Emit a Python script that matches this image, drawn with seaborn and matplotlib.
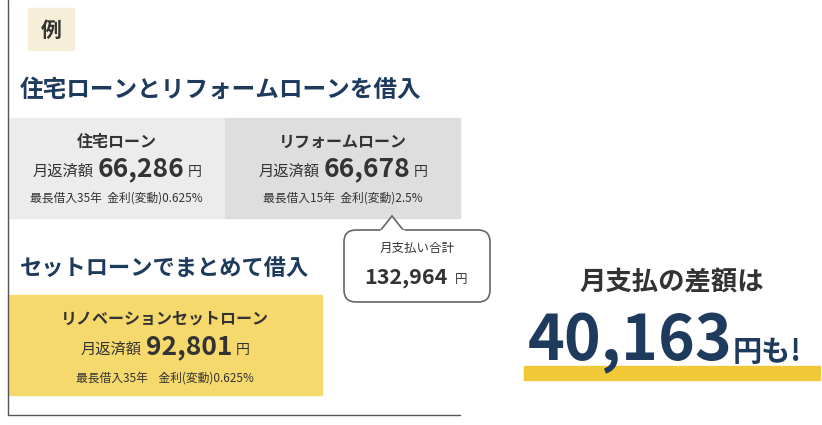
import matplotlib.pyplot as plt
import seaborn as sns
from matplotlib.patches import Rectangle, FancyBboxPatch, Polygon

sns.set_theme(style="white", rc={"font.family": "Noto Sans CJK JP"})

# loan data
loan_names = ["住宅ローン", "リフォームローン", "リノベーションセットローン"]
monthly_pay = [66286, 66678, 92801]
loan_years = [35, 15, 35]
loan_rates = ["0.625%", "2.5%", "0.625%"]

navy = "#1e3a5c"
txt = "#333333"

fig = plt.figure(figsize=(8.22, 4.25), dpi=100)
ax = fig.add_axes([0, 0, 1, 1])
ax.set_xlim(0, 822)
ax.set_ylim(425, 0)
ax.axis("off")

# frame lines
ax.plot([8, 8], [0, 415], color="#555555", lw=1)
ax.plot([8, 460], [415, 415], color="#555555", lw=1)

# 例 label
ax.add_patch(Rectangle((28, 8), 46, 42, color="#f6eed8"))
ax.text(51, 30, "例", ha="center", va="center", fontsize=15, fontweight="bold", color=txt)

ax.text(20, 90, "住宅ローンとリフォームローンを借入", ha="left", va="center",
        fontsize=17, fontweight="bold", color=navy)


def pay_line(cx, y, value):
    ax.text(cx - 84, y + 2, "月返済額", ha="left", va="center", fontsize=11, color=txt)
    ax.text(cx + 24, y, f"{value:,}", ha="center", va="center", fontsize=19, fontweight="bold", color=txt)
    ax.text(cx + 71, y + 3, "円", ha="left", va="center", fontsize=10, color=txt)


boxes = [(8, 118, 217, 100, "#ececec"), (225, 118, 235, 100, "#dedede")]
for i, (x, y, w, h, c) in enumerate(boxes):
    ax.add_patch(Rectangle((x, y), w, h, color=c))
    cx = x + w / 2
    ax.text(cx, 142, loan_names[i], ha="center", va="center", fontsize=11.5, fontweight="bold", color=txt)
    pay_line(cx, 169, monthly_pay[i])
    ax.text(cx, 198, f"最長借入{loan_years[i]}年  金利(変動){loan_rates[i]}", ha="center", va="center",
            fontsize=8.5, color=txt)

# speech bubble
ax.add_patch(FancyBboxPatch((344, 230), 146, 72, boxstyle="round,pad=0,rounding_size=12",
                            facecolor="white", edgecolor="#666666", lw=1.2, zorder=3))
ax.add_patch(Polygon([[380, 231], [392, 216], [404, 231]], closed=True, facecolor="white",
                     edgecolor="#666666", lw=1.2, zorder=4))
ax.plot([381, 403], [231, 231], color="white", lw=2.5, zorder=5)
total = monthly_pay[0] + monthly_pay[1]
ax.text(417, 248, "月支払い合計", ha="center", va="center", fontsize=9, color=txt, zorder=6)
ax.text(406, 277, f"{total:,}", ha="center", va="center", fontsize=15.5, fontweight="bold", color=txt, zorder=6)
ax.text(455, 280, "円", ha="left", va="center", fontsize=9, color=txt, zorder=6)

ax.text(20, 268, "セットローンでまとめて借入", ha="left", va="center",
        fontsize=16, fontweight="bold", color=navy)

ax.add_patch(Rectangle((8, 295), 314, 100, color="#f6d96c"))
cx = 165
ax.text(cx, 319, loan_names[2], ha="center", va="center", fontsize=11.5, fontweight="bold", color=txt)
pay_line(cx, 347, monthly_pay[2])
ax.text(cx, 378, f"最長借入{loan_years[2]}年    金利(変動){loan_rates[2]}", ha="center", va="center",
        fontsize=8.5, color=txt)

# difference
diff = total - monthly_pay[2]
ax.add_patch(Rectangle((524, 366), 296, 14, color="#f0c838"))
ax.text(672, 283, "月支払の差額は", ha="center", va="center", fontsize=19, fontweight="bold", color=txt)
ax.text(630, 342, f"{diff:,}", ha="center", va="center", fontsize=45, fontweight="bold", color=navy, zorder=3)
ax.text(733, 352, "円も!", ha="left", va="center", fontsize=21, fontweight="bold", color=navy, zorder=3)

fig.savefig("out.png", dpi=100, facecolor="white")
